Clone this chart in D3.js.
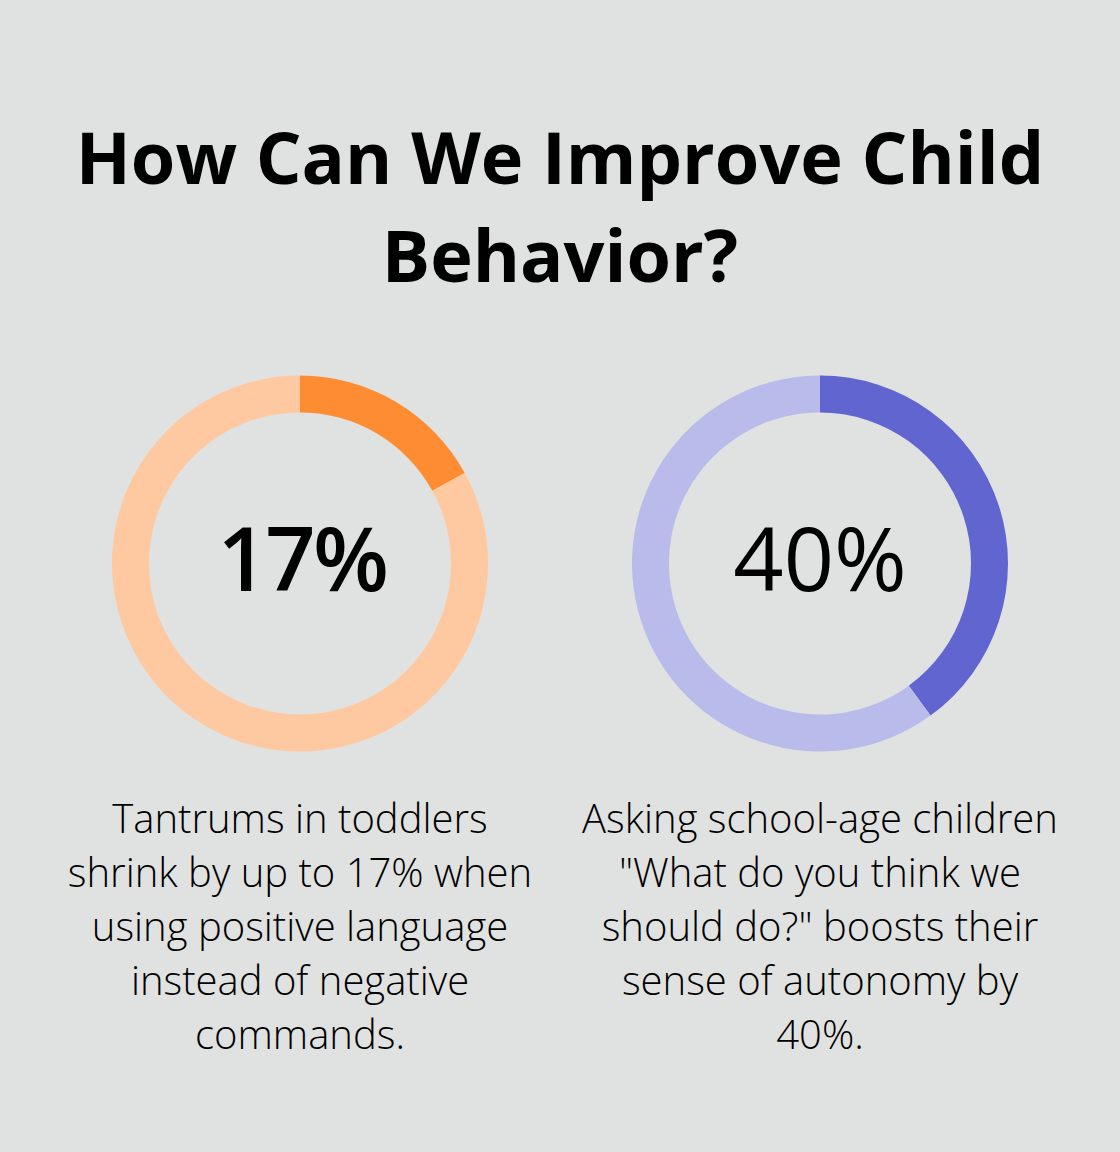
<!DOCTYPE html>
<html>
<head>
<meta charset="utf-8">
<script src="https://cdn.jsdelivr.net/npm/d3@7/dist/d3.min.js"></script>
<style>
  html, body { margin: 0; padding: 0; background: #e0e2e1; }
  svg { display: block; }
</style>
</head>
<body>
<svg id="chart" width="1120" height="1152"></svg>
<script>
const titleLines = ["How Can We Improve Child", "Behavior?"];
const values = [17, 40];
const labels = ["17%", "40%"];
const labelWeights = [600, 400];
const descriptions = [
  ["Tantrums in toddlers", "shrink by up to 17% when", "using positive language", "instead of negative", "commands."],
  ["Asking school-age children", "\"What do you think we", "should do?\" boosts their", "sense of autonomy by", "40%."]
];
const mainColors = ["#fe8c33", "#6165d0"];
const restColors = ["#fec9a0", "#b9bcea"];

const svg = d3.select("#chart");
svg.append("rect").attr("width", 1120).attr("height", 1152).attr("fill", "#e0e2e1");

const font = "'Open Sans', sans-serif";

svg.selectAll("text.title").data(titleLines).join("text")
  .attr("class", "title")
  .attr("x", 560)
  .attr("y", (d, i) => 184 + i * 98)
  .attr("text-anchor", "middle")
  .attr("font-family", font)
  .attr("font-weight", 700)
  .attr("font-size", 72)
  .attr("fill", "#000")
  .text(d => d);

const x = d3.scalePoint().domain(d3.range(values.length)).range([300, 820]);
const pie = d3.pie().sort(null).value(d => d);
const arc = d3.arc().innerRadius(151).outerRadius(188);

values.forEach((v, i) => {
  const g = svg.append("g").attr("transform", `translate(${x(i)},563.5)`);
  g.selectAll("path").data(pie([v, 100 - v])).join("path")
    .attr("d", arc)
    .attr("fill", (d, j) => j === 0 ? mainColors[i] : restColors[i]);
  g.append("text")
    .attr("x", i === 0 ? 2 : 0)
    .attr("y", 27)
    .attr("text-anchor", "middle")
    .attr("font-family", font)
    .attr("font-weight", labelWeights[i])
    .attr("font-size", 88)
    .attr("letter-spacing", i === 0 ? -2.5 : 0)
    .attr("fill", "#000")
    .text(labels[i]);
  svg.selectAll(null).data(descriptions[i]).join("text")
    .attr("x", x(i))
    .attr("y", (d, k) => 833 + k * 54)
    .attr("text-anchor", "middle")
    .attr("font-family", font)
    .attr("font-weight", 300)
    .attr("font-size", 40)
    .attr("fill", "#000")
    .text(d => d);
});
</script>
</body>
</html>
